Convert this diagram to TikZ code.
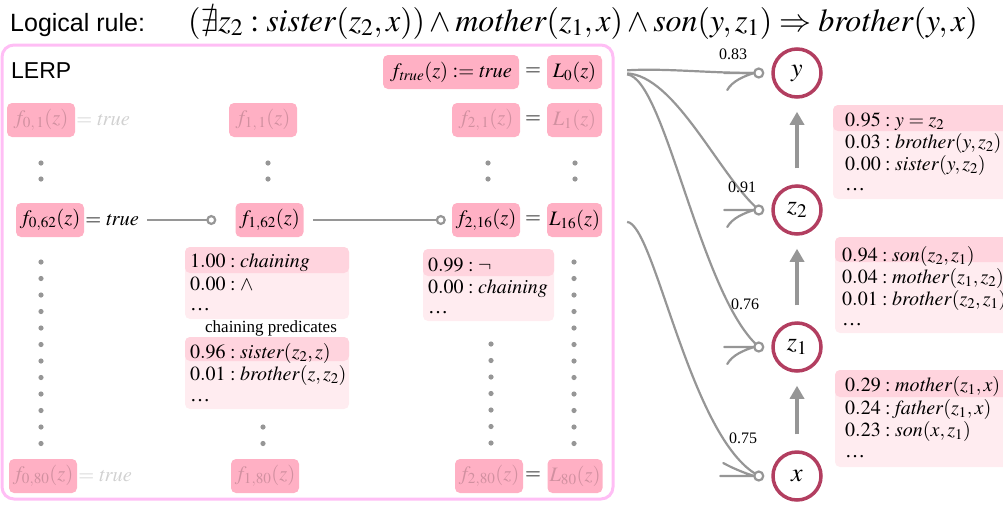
\documentclass[tikz,border=0pt]{standalone}
\usepackage{mathptmx}
\usepackage{amssymb}
\usepackage[no-math]{fontspec}
\setmainfont{Liberation Serif}
\setsansfont{Liberation Sans}
\usetikzlibrary{arrows.meta}
\definecolor{fpink}{RGB}{255,176,196}
\definecolor{hlpink}{RGB}{255,212,222}
\definecolor{lspink}{RGB}{255,236,240}
\definecolor{lerpb}{RGB}{255,190,245}
\definecolor{conng}{RGB}{150,150,150}
\definecolor{rose}{RGB}{178,62,96}
\newcommand\myfmath{\fontsize{20.5}{24}\selectfont}
\newcommand\mylfont{\fontsize{20}{22}\selectfont}
\newcommand\mycfont{\fontsize{26}{30}\selectfont}
\newcommand\mytfont{\fontsize{25}{29}\selectfont}
\newcommand\myrfont{\fontsize{32}{36}\selectfont}
\newcommand\mywfont{\fontsize{16}{19}\selectfont}
\tikzset{
  fnode/.style={fill=fpink, rounded corners=5pt, minimum height=34pt, inner sep=1pt, font=\myfmath},
  faded/.style={text opacity=0.18},
  eqs/.style={font=\myfmath, inner sep=0pt},
  lt/.style={anchor=base west, font=\mylfont, inner sep=0pt, text height=13pt, text depth=3pt},
  conn/.style={conng, line width=2.2pt},
  endo/.style={-{Circle[open, length=10pt, width=10pt, fill=white]}},
  var/.style={circle, draw=rose, line width=3.5pt, minimum size=48pt, inner sep=0pt, font=\mycfont, fill=white},
  varr/.style={conng, line width=4pt, -{Triangle[width=14pt,length=13pt]}, shorten <=16pt, shorten >=13pt},
  wlab/.style={font=\mywfont, inner sep=0pt},
  dotc/.style={fill=conng},
  fork/.pic={\draw[conng, line width=2.2pt, line cap=round] (0,0) -- (-30,0) (0,0) .. controls (-10,3) and (-22,8) .. (-27,17);},
  forkup/.pic={\draw[conng, line width=2.2pt, line cap=round] (0,0) -- (-34,0) (0,0) .. controls (-10,-3) and (-22,-8) .. (-31,-13);}
}
\begin{document}
\begin{tikzpicture}[x=1pt,y=-1pt]
\useasboundingbox (0,0) rectangle (1003,504);
% title
\node[anchor=base west, font=\sffamily\mytfont, inner sep=0pt] (title) at (10,31) {Logical rule:};
\node[anchor=base west, font=\myrfont, inner sep=0pt] (rule) at (188,31)
  {$(\nexists z_2 : \mathit{sister}(z_2, x)) \wedge \mathit{mother}(z_1, x) \wedge \mathit{son}(y, z_1) \Rightarrow \mathit{brother}(y, x)$};
% LERP box
\draw[lerpb, line width=3pt, rounded corners=12pt] (2,45) rectangle (613,499);
\node[anchor=west, font=\sffamily\fontsize{23}{27}\selectfont, inner sep=0pt] (lerp) at (11,71) {LERP};
% top row
\node[fnode, minimum width=136pt] (ftrue) at (451,72) {$f_{\mathit{true}}(z) := \mathit{true}$};
\node[eqs] (eq0) at (533,72) {$=$};
\node[fnode, minimum width=55pt] (L0) at (574.5,72) {$L_0(z)$};
% row 1
\node[fnode, minimum width=68pt, faded] (f01) at (41,120) {$f_{0,\,1}(z)$};
\node[eqs, faded, anchor=west] (t01) at ([xshift=1pt]f01.east) {$=\mathit{true}$};
\node[fnode, minimum width=68pt, faded] (f11) at (263,120) {$f_{1,\,1}(z)$};
\node[fnode, minimum width=68pt, faded] (f21) at (486,120) {$f_{2,\,1}(z)$};
\node[eqs] (eq1) at (533,120) {$=$};
\node[fnode, minimum width=55pt, faded] (L1) at (574.5,120) {$L_1(z)$};
% row 62
\node[fnode, minimum width=68pt] (f062) at (50,220) {$f_{0,62}(z)$};
\node[eqs, anchor=west] (t062) at ([xshift=1pt]f062.east) {$=\mathit{true}$};
\node[fnode, minimum width=68pt] (f162) at (269.5,220) {$f_{1,62}(z)$};
\node[fnode, minimum width=68pt] (f216) at (486,220) {$f_{2,16}(z)$};
\node[eqs] (eq16) at (533,220) {$=$};
\node[fnode, minimum width=55pt] (L16) at (574.5,220) {$L_{16}(z)$};
\draw[conn, endo, shorten <=8pt, shorten >=19pt] (t062.east) -- (f162.west);
\draw[conn, endo, shorten <=9.5pt, shorten >=6pt] (f162.east) -- (f216.west);
% row 80
\node[fnode, minimum width=68pt, faded] (f080) at (43,476) {$f_{0,80}(z)$};
\node[eqs, faded, anchor=west] (t080) at ([xshift=1pt]f080.east) {$=\mathit{true}$};
\node[fnode, minimum width=68pt, faded] (f180) at (265,476) {$f_{1,80}(z)$};
\node[fnode, minimum width=68pt, faded] (f280) at (489,476) {$f_{2,80}(z)$};
\node[eqs] (eq80) at (533,476) {$=$};
\node[fnode, minimum width=55pt, faded] (L80) at (575,476) {$L_{80}(z)$};
% dots
\foreach \x in {41,268,488,575} {\fill[dotc] (\x,163) circle (2.6); \fill[dotc] (\x,179) circle (2.6);}
\foreach \k in {0,...,11} {\fill[dotc] (41,262+16.5*\k) circle (2.6); \fill[dotc] (574,262+16.5*\k) circle (2.6);}
\foreach \k in {0,...,6} {\fill[dotc] (491,344+16.5*\k) circle (2.6);}
\fill[dotc] (263,427) circle (2.6); \fill[dotc] (263,443.5) circle (2.6);
% list under f162
\fill[lspink, rounded corners=5pt] (185,247) rectangle (349,319);
\fill[hlpink, rounded corners=5pt] (185,247) rectangle (349,273);
\node[lt] (a1) at (190,267) {$1.00 : \mathit{chaining}$};
\node[lt] (a2) at (190,290) {$0.00 : \wedge$};
\node[lt] (a3) at (190,310) {\ldots};
\node[font=\fontsize{17}{20}\selectfont, inner sep=0pt] (cp) at (271,328) {chaining predicates};
\fill[lspink, rounded corners=5pt] (185,337) rectangle (349,409);
\fill[hlpink, rounded corners=5pt] (185,337) rectangle (349,361);
\node[lt] (b1) at (190,358) {$0.96 : \mathit{sister}(z_2, z)$};
\node[lt] (b2) at (190,380) {$0.01 : \mathit{brother}(z, z_2)$};
\node[lt] (b3) at (190,401) {\ldots};
% list under f216
\fill[lspink, rounded corners=5pt] (423,249) rectangle (554,321);
\fill[hlpink, rounded corners=5pt] (423,249) rectangle (554,276);
\node[lt] (c1) at (428,271) {$0.99 : \neg$};
\node[lt] (c2) at (428,293) {$0.00 : \mathit{chaining}$};
\node[lt] (c3) at (428,313) {\ldots};
% variable nodes
\node[var] (ny) at (797,73) {$y$};
\node[var] (nz2) at (797,210) {$z_2$};
\node[var] (nz1) at (797,347) {$z_1$};
\node[var] (nx) at (797,476) {$x$};
\draw[varr] (nx) -- (nz1);
\draw[varr] (nz1) -- (nz2);
\draw[varr] (nz2) -- (ny);
% right lists
\fill[lspink, rounded corners=5pt] (833,105) rectangle (1012,199);
\fill[hlpink, rounded corners=5pt] (833,105) rectangle (1012,131);
\node[lt] (r1) at (845,126) {$0.95 : y = z_2$};
\node[lt] (r2) at (845,148) {$0.03 : \mathit{brother}(y, z_2)$};
\node[lt] (r3) at (845,170) {$0.00 : \mathit{sister}(y, z_2)$};
\node[lt] (r4) at (845,190) {\ldots};
\fill[lspink, rounded corners=5pt] (835,237) rectangle (1012,333);
\fill[hlpink, rounded corners=5pt] (835,237) rectangle (1012,262);
\node[lt] (s1) at (842,261) {$0.94 : \mathit{son}(z_2, z_1)$};
\node[lt] (s2) at (842,283) {$0.04 : \mathit{mother}(z_1, z_2)$};
\node[lt] (s3) at (842,305) {$0.01 : \mathit{brother}(z_2, z_1)$};
\node[lt] (s4) at (842,325) {\ldots};
\fill[lspink, rounded corners=5pt] (835,370) rectangle (1012,467);
\fill[hlpink, rounded corners=5pt] (835,370) rectangle (1012,397);
\node[lt] (u1) at (845,391) {$0.29 : \mathit{mother}(z_1, x)$};
\node[lt] (u2) at (845,414) {$0.24 : \mathit{father}(z_1, x)$};
\node[lt] (u3) at (845,436) {$0.23 : \mathit{son}(x, z_1)$};
\node[lt] (u4) at (845,457) {\ldots};
% connector end points (marker centres)
\coordinate (my) at ([xshift=-12.5pt]ny.west);
\coordinate (mz2) at ([xshift=-12.5pt]nz2.west);
\coordinate (mz1) at ([xshift=-12.5pt]nz1.west);
\coordinate (mx) at ([xshift=-12.5pt]nx.west);
\draw[conn, shorten <=25pt, shorten >=5pt] (L0.east) .. controls +(60,-4) and +(-50,0) .. (my);
\draw[conn, shorten <=25pt, shorten >=5pt] (L0.east) .. controls +(72,4) and +(-42,-40) .. (mz2);
\draw[conn, shorten <=25pt, shorten >=5pt] (L0.east) .. controls +(62,6) and +(-60,-60) .. (mz1);
\draw[conn, shorten <=25pt, shorten >=5pt] (L16.east) .. controls +(52,4) and +(-70,-45) .. (mx);
\foreach \m in {my,mz2,mz1} {\pic at ([xshift=-4.5pt]\m) {fork};}
\pic at ([xshift=-4.5pt]mx) {forkup};
\foreach \m in {my,mz2,mz1,mx} {\draw[conn, fill=white] (\m) circle (4.5);}
\node[wlab] (w83) at (733,54) {0.83};
\node[wlab] (w91) at (742,187) {0.91};
\node[wlab] (w76) at (745,304) {0.76};
\node[wlab] (w75) at (743,438) {0.75};
\end{tikzpicture}
\end{document}
